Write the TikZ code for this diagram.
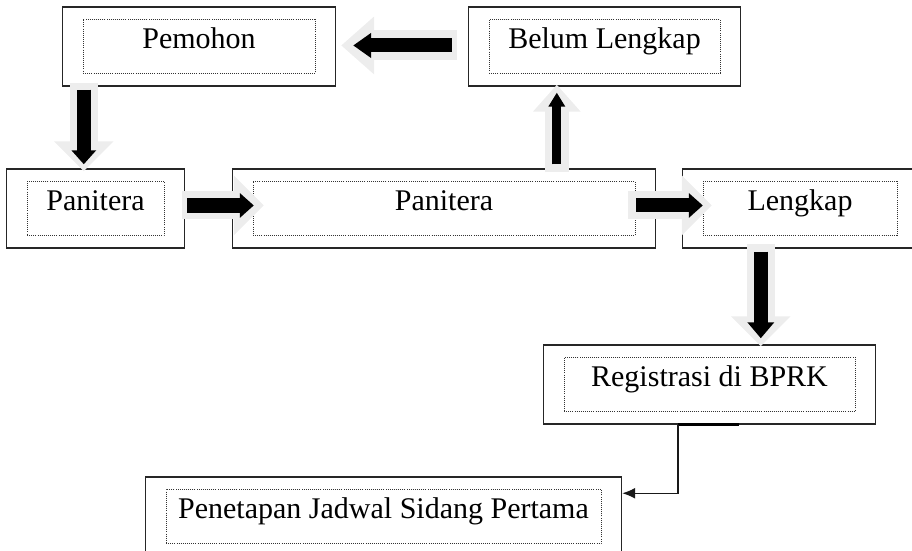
\documentclass[tikz,border=0pt]{standalone}
\usepackage{fontspec}
\setmainfont{Liberation Serif}
\usetikzlibrary{arrows.meta,fit,calc}

\begin{document}
\begin{tikzpicture}[x=1pt, y=-1pt,
          inbox/.style = {draw=black!80, line width=0.9pt, dash pattern=on 1pt off 1.1pt, inner sep=0pt, anchor=north, text height=29pt, text depth=25pt, font=\fontsize{30}{36}\selectfont},
          outbox/.style = {draw=black!85, line width=1.5pt, inner xsep=20pt, inner ysep=12pt},
          halo/.style = {draw=black!7, line width=28pt, -{Triangle[length=30pt, width=58pt]}},
          block/.style = {draw=black, line width=14pt, -{Triangle[length=14pt, width=24pt]}},
          link/.style = {draw=black!90, line width=1.5pt, -{Latex[length=13pt, width=11pt]}}]
          \useasboundingbox (0,0) rectangle (912,550);
          \clip (0,0) rectangle (912,550);
          \node[inbox, minimum width=232pt] (pemohonIn) at (199,19) {Pemohon};
          \node[inbox, minimum width=231pt] (belumIn) at (604.5,19) {Belum Lengkap};
          \node[inbox, minimum width=137pt] (panitera1In) at (95.5,181) {Panitera};
          \node[inbox, minimum width=382pt] (panitera2In) at (444,181) {Panitera};
          \node[inbox, minimum width=194pt] (lengkapIn) at (800,181) {Lengkap};
          \node[inbox, minimum width=291pt] (registrasiIn) at (709.5,357) {Registrasi di BPRK};
          \node[inbox, minimum width=435pt] (penetapanIn) at (383.5,489) {Penetapan Jadwal Sidang Pertama};
          \node[outbox, fit=(pemohonIn)] (pemohon) {};
          \node[outbox, fit=(belumIn)] (belum) {};
          \node[outbox, fit=(panitera1In)] (panitera1) {};
          \node[outbox, fit=(panitera2In)] (panitera2) {};
          \node[outbox, fit=(lengkapIn)] (lengkap) {};
          \node[outbox, fit=(registrasiIn)] (registrasi) {};
          \node[outbox, fit=(penetapanIn)] (penetapan) {};
          \draw[halo] ($(pemohon.south west)+(22,-4)$) -- ($(pemohon.south west |- panitera1.north)+(22,3)$);
          \draw[halo] ($(panitera1.east)+(-3,-3)$) -- ($(panitera2.west)+(32,-3)$);
          \draw[halo] ($(panitera2.east)+(-28,-3)$) -- ($(lengkap.west)+(30,-3)$);
          \draw[halo] ($(lengkap.south west)+(79,-5)$) -- ($(lengkap.south west |- registrasi.north)+(79,2)$);
          \draw[halo, line width=24pt, -{Triangle[length=27pt, width=46pt]}] ($(panitera2.north west)+(325,4)$) -- ($(panitera2.north west |- belum.south)+(325,-2)$);
          \draw[halo, line width=30pt, -{Triangle[length=33pt, width=56pt]}] ($(belum.west)+(-11,-1)$) -- ($(pemohon.east)+(5,-1)$);
          \draw[block] ($(pemohon.south west)+(22,3)$) -- ($(pemohon.south west |- panitera1.north)+(22,-4)$);
          \draw[block, line width=15pt] ($(panitera1.east)+(2,-3)$) -- ($(panitera2.west)+(22,-3)$);
          \draw[block] ($(panitera2.east)+(-20,-3)$) -- ($(lengkap.west)+(21,-3)$);
          \draw[block, -{Triangle[length=16pt, width=26pt]}] ($(lengkap.south west)+(79,3)$) -- ($(lengkap.south west |- registrasi.north)+(79,-6)$);
          \draw[block, line width=9pt, -{Triangle[length=14pt, width=16pt]}] ($(panitera2.north west)+(325,-4)$) -- ($(panitera2.north west |- belum.south)+(325,6)$);
          \draw[block, -{Triangle[length=18pt, width=24pt]}] ($(belum.west)+(-16,-1)$) -- ($(pemohon.east)+(17,-1)$);
          \draw[line width=3pt] ($(registrasi.south west)+(135,0)$) -- ++(61,0);
          \draw[link] ($(registrasi.south west)+(135,0)$) |- ($(penetapan.north east)+(0,17)$);
        \end{tikzpicture}
\end{document}
